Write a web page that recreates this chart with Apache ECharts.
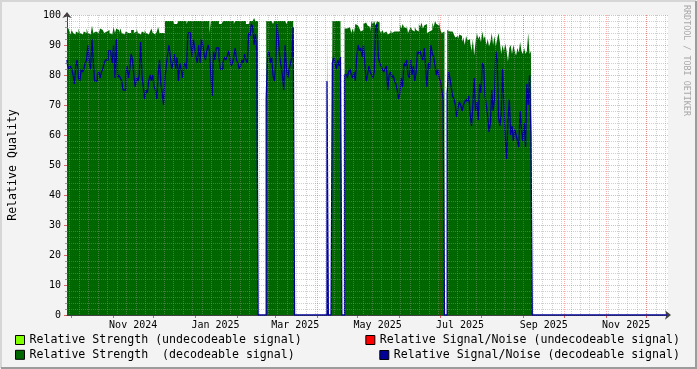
<!DOCTYPE html>
<html><head><meta charset="utf-8">
<script src="https://cdn.jsdelivr.net/npm/echarts@6/dist/echarts.min.js"></script>
<style>html,body{margin:0;padding:0;background:#f3f3f3}#c{width:697px;height:369px}</style>
</head><body><div id="c"></div>
<script>
// ---- time range (one sample per day) ----
const FIRST_DAY = '2024-09-28';
const LAST_DAY  = '2025-12-17';
const MONTHS = ['Jan','Feb','Mar','Apr','May','Jun','Jul','Aug','Sep','Oct','Nov','Dec'];

// ---- series names ----
const NAME_US = 'Relative Strength (undecodeable signal)';
const NAME_UN = 'Relative Signal/Noise (undecodeable signal)';
const NAME_DS = 'Relative Strength  (decodeable signal)';
const NAME_DN = 'Relative Signal/Noise (decodeable signal)';

// ---- data segments (days not listed = no signal, value 0) ----
const segAStart = '2024-09-28';
const segAStrength = [94,96,95,93.5,95,94,93.5,94.5,94,95.5, 94,93.5,94,94.5,94,95.5,94,93.5,94,96.5,
  94,94.5,95,94,93.5,95.5,95,95.5,94,94.5, 94,95,94,93.5,94,96,94,95.5,95,94,
  95.5,94,93.5,94,94.5,94,93.5,94,95,95, 94,94.5,95.5,94,93.5,94,94.5,94,95,94,
  93.5,94,94.5,95.5,94,93.5,94,94.5,96,94, 94,94.5,94,98,98,98,98,98,98,98,
  97,97,97,98,98,98,98,98,98,97, 98,98,98,98,98,98,98,98,98,98,
  98,98,98,98,98,98,94,98,98,98, 98,98,98,97,97,97,98,98,98,98,
  98,98,98,98,97,98,98,98,98,98, 98,98,98,97,97,97,98,98,98,99, 98,98];
const segASnr = [85,83,82,83,82,80,77,83,85,79, 78,82,81,82,84,85,90,84,82,92,
  84,78,78,80,81,79,81,82,84,85, 85,88,88,87,84,90,79,92,79,80,
  79,78,75,75,80,83,79,82,87,85, 80,76,79,78,80,91,80,76,72,75,
  74,78,80,78,80,76,75,72,80,85, 77,74,70,79,83,87,90,86,82,84,
  87,82,86,78,84,82,79,83,84,82, 94,94,91,86,92,89,86,84,90,84,
  92,90,87,85,88,90,88,80,73,88, 85,89,89,86,82,82,84,86,85,86,
  88,86,83,84,86,89,85,84,82,83, 85,84,87,85,84,94,93,97,96,90, 94,88];

const segBStart = '2025-02-23';
const segBStrength = [98,98,98,98,98,97,98,98,98,98,98,98,98,98,98,97,98,98,98,98,98];
const segBSnr = [72,86,88,84,86,80,78,83,97,92,86,83,80,75,90,82,79,82,84,86,96];

const segSStart = '2025-04-09';
const segSStrength = [97];
const segSSnr = [78];

const segCStart = '2025-04-13';
const segCStrength = [98,98,98,98,98,98,98];
const segCSnr = [84,86,84,82,85,83,86];

const segDStart = '2025-04-22';
const segDStrength = [95.5,95.5,95,96, 96.5,94,95.5,94, 97,96.5,96, 95.5,94.5,95,
  97,97.5,97.8,96.5, 96,94.5, 98,97,98,96.5,98,97.5, 95,94,95,94,94.5,
  95,93.5,94,95,94, 94.5,94,94.5,94,94.5, 97,95.5,97,96,95.5, 96.5,94,95,96,
  95,94.5,96,95,94.5, 97,96,97.5,95.5,96.5,97, 94,94.5,94,95,
  97.5,96,98,97,96.5,97.8, 95,94,94.5];
const segDSnr = [80,80,79,81,82,80,79,81,78,86, 90,88,89,86,90,84,78,80,83,81,
  80,79,81,96,97,86,84,83,82,81, 82,83,75,80,81,79,80,78,77,75,
  72,74,79,76,84,83,85,80,79,85, 80,83,78,81,88,87,88,86,85,89,
  83,76,84,82,90,87,86,83,80,82, 79,78,75,72];

const segEStart = '2025-07-07';
const segEStrength = [95,94.5,94,94.5,94, 93.5,92.5,93,92,93.5, 93,91,92.5,90,93,91.5,92,
  91,88,92,86.5,91, 94,92,93,91,94.5,92,93, 90,92,89.5,91, 94,90,93,89.5,92,94,
  91,87,90,88, 90.5,88,84.5,89,90, 87,90,88,86.5,89,87.5, 91,88,87,89, 87,88,94,87,88];
const segESnr = [74,81,79,76,73,72,70,66,69,71, 70,68,70,71,72,71,73,67,63,70,
  79,68,71,65,77,74,84,83,73,70, 66,61,64,75,68,72,88,85,66,63,
  67,82,70,59,52,65,72,60,63,58, 62,60,58,56,68,62,58,64,56,77, 70,80,60];

// undecodeable-signal strength, isolated days
const undecDays = ['2025-05-09','2025-08-21'];
const undecStrength = [98, 86];

// ---- build daily series ----
function dayList(a, b) {
  const out = []; let t = Date.parse(a + 'T00:00:00Z'); const e = Date.parse(b + 'T00:00:00Z');
  while (t <= e) { out.push(new Date(t).toISOString().slice(0, 10)); t += 86400000; }
  return out;
}
const days = dayList(FIRST_DAY, LAST_DAY);
const strength = days.map(() => 0);
const snr = days.map(() => 0);
const undec = days.map(() => 0);
[[segAStart, segAStrength, segASnr], [segBStart, segBStrength, segBSnr], [segSStart, segSStrength, segSSnr],
 [segCStart, segCStrength, segCSnr], [segDStart, segDStrength, segDSnr], [segEStart, segEStrength, segESnr]]
 .forEach(([s, st, sn]) => { const k = days.indexOf(s); st.forEach((v, j) => strength[k + j] = v); sn.forEach((v, j) => snr[k + j] = v); });
undecDays.forEach((d, j) => { undec[days.indexOf(d)] = undecStrength[j]; });

const isMonthStart = (i, v) => v.slice(8) === '01';
const isLabelDay = (i, v) => v.slice(8) === '16' && (+v.slice(5, 7)) % 2 === 1;
const isMonday = (i, v) => new Date(v + 'T00:00:00Z').getUTCDay() === 1;

const FONT = 'DejaVu Sans Mono';
const MAJOR = 'rgba(255,0,0,0.32)';
const MINOR = 'rgba(150,150,150,0.45)';

const chart = echarts.init(document.getElementById('c'), null, {renderer: 'canvas'});
const legendCommon = {
  icon: 'rect', itemWidth: 9, itemHeight: 9, padding: 0, selectedMode: false, orient: 'vertical',
  itemStyle: {borderColor: '#000', borderWidth: 1},
  textStyle: {fontFamily: FONT, fontSize: 11.6, color: '#000', lineHeight: 14}
};
chart.setOption({
  animation: false,
  backgroundColor: '#f3f3f3',
  grid: {left: 67, right: 29, top: 15, bottom: 54, show: true, backgroundColor: '#ffffff', borderWidth: 0, containLabel: false, outerBoundsMode: 'none'},
  legend: [
    Object.assign({}, legendCommon, {left: 15, top: 333, itemGap: 0.8, data: [NAME_US, NAME_DS]}),
    Object.assign({}, legendCommon, {right: 17, top: 333, data: [NAME_UN]}),
    Object.assign({}, legendCommon, {right: 17, top: 348, data: [NAME_DN]})
  ],
  xAxis: [
    {type: 'category', data: days, boundaryGap: false, z: 1,
     axisLine: {show: true, lineStyle: {color: '#404040', width: 1}, symbol: ['none', 'arrow'], symbolSize: [7, 6], symbolOffset: [0, 3]},
     axisTick: {show: true, interval: isMonthStart, length: 3, lineStyle: {color: 'rgba(200,0,0,0.6)'}},
     axisLabel: {show: true, interval: isLabelDay, margin: 5, fontFamily: FONT, fontSize: 10, color: '#000',
       formatter: v => MONTHS[+v.slice(5, 7) - 1] + ' ' + v.slice(0, 4)},
     splitLine: {show: false}},
    {type: 'category', data: days, boundaryGap: false, z: 6,
     axisLine: {show: false}, axisTick: {show: false}, axisLabel: {show: false},
     splitLine: {show: true, interval: isMonthStart, lineStyle: {color: MAJOR, width: 1, type: [1, 1]}}},
    {type: 'category', data: days, boundaryGap: false, z: 5,
     axisLine: {show: false}, axisTick: {show: false}, axisLabel: {show: false},
     splitLine: {show: true, interval: isMonday, lineStyle: {color: MINOR, width: 1, type: [1, 1]}}}
  ],
  yAxis: [
    {type: 'value', min: 0, max: 100, interval: 10, z: 1,
     name: 'Relative Quality', nameLocation: 'middle', nameGap: 48, nameRotate: 90,
     nameTextStyle: {fontFamily: FONT, fontSize: 11.6, color: '#000'},
     axisLine: {show: true, lineStyle: {color: '#404040', width: 1}, symbol: ['none', 'arrow'], symbolSize: [7, 6], symbolOffset: [0, 3]},
     axisTick: {show: true, length: 3, lineStyle: {color: 'rgba(200,0,0,0.6)'}},
     minorTick: {show: true, splitNumber: 5, length: 2, lineStyle: {color: '#999'}},
     axisLabel: {fontFamily: FONT, fontSize: 10, color: '#000', margin: 6},
     splitLine: {show: false}},
    {type: 'value', min: 0, max: 100, interval: 10, z: 5,
     axisLine: {show: false}, axisTick: {show: false}, axisLabel: {show: false},
     minorTick: {show: false, splitNumber: 5},
     splitLine: {show: true, lineStyle: {color: MAJOR, width: 1, type: [1, 1]}},
     minorSplitLine: {show: true, lineStyle: {color: MINOR, width: 1, type: [1, 1]}}}
  ],
  series: [
    {name: NAME_US, type: 'line', data: undec, step: 'middle', symbol: 'none', color: '#80ff00',
     lineStyle: {width: 0}, areaStyle: {color: '#80ff00', opacity: 1}, z: 2},
    {name: NAME_UN, type: 'line', data: [], symbol: 'none', color: '#ff0000', lineStyle: {width: 1}},
    {name: NAME_DS, type: 'line', data: strength, step: 'middle', symbol: 'none', color: '#006600',
     lineStyle: {width: 0}, areaStyle: {color: '#006600', opacity: 1}, z: 2},
    {name: NAME_DN, type: 'line', data: snr, step: 'middle', symbol: 'none', color: '#000099',
     lineStyle: {color: '#000099', width: 1.3}, z: 3}
  ],
  graphic: [
    {type: 'text', x: 686, y: 5, rotation: -Math.PI / 2,
     style: {text: 'RRDTOOL / TOBI OETIKER', fontFamily: FONT, fontSize: 8.4, fill: '#a8a8a8', textAlign: 'left', textVerticalAlign: 'middle'}},
    {type: 'polyline', silent: true, shape: {points: [[1, 368], [1, 1], [696, 1]]}, style: {stroke: '#d6d6d6', lineWidth: 2, fill: null}},
    {type: 'polyline', silent: true, shape: {points: [[1, 368], [696, 368], [696, 1]]}, style: {stroke: '#9c9c9c', lineWidth: 2, fill: null}}
  ]
});
</script></body></html>
